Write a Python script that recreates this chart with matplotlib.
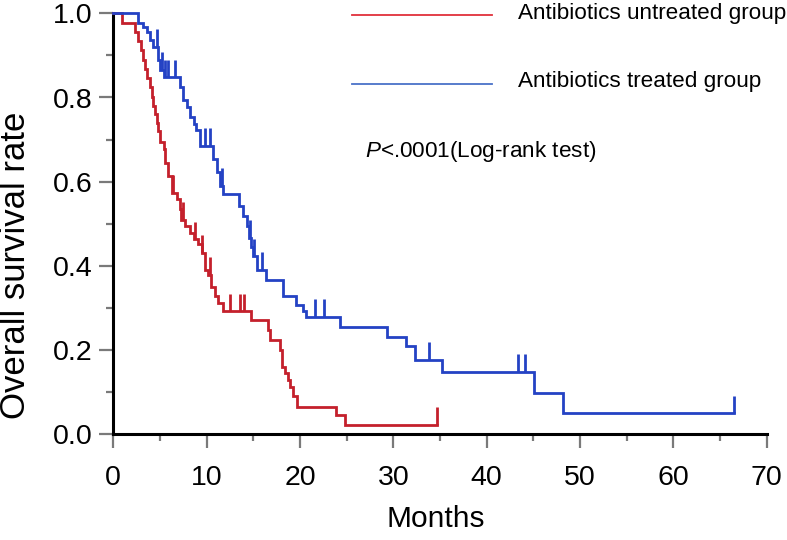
import numpy as np
import matplotlib
matplotlib.use("Agg")
import matplotlib.pyplot as plt
from matplotlib.lines import Line2D
from matplotlib.ticker import MultipleLocator

plt.rcParams['font.family'] = ['Liberation Sans', 'DejaVu Sans']
plt.rcParams['mathtext.fontset'] = 'custom'
plt.rcParams['mathtext.it'] = 'Liberation Sans:italic'
plt.rcParams['mathtext.rm'] = 'Liberation Sans'

# ---- data ----
red_label = "Antibiotics untreated group"
blue_label = "Antibiotics treated group"
pvalue_text = r"$\mathit{P}$<.0001(Log-rank test)"

red_times = [0, 0.9, 2.3, 2.7, 3.0, 3.2, 3.4, 3.6, 3.9, 4.1, 4.3, 4.5, 4.65, 4.8, 5.0,
             5.4, 5.5, 5.9, 6.25, 6.8, 7.15, 7.3, 7.7, 8.2, 8.6, 9.1, 9.5, 9.8, 10.2,
             10.5, 10.9, 11.25, 11.8, 14.8, 16.6, 16.8, 17.9, 18.05, 18.4, 18.75, 18.9,
             19.3, 19.65, 23.9, 24.8]
red_surv = [1.0, 0.978, 0.956, 0.934, 0.912, 0.89, 0.868, 0.846, 0.824, 0.80, 0.78,
            0.76, 0.74, 0.72, 0.694, 0.677, 0.645, 0.613, 0.574, 0.558, 0.534, 0.51,
            0.494, 0.479, 0.463, 0.451, 0.431, 0.391, 0.379, 0.351, 0.328, 0.312,
            0.292, 0.272, 0.248, 0.225, 0.2, 0.161, 0.145, 0.129, 0.113, 0.09, 0.066,
            0.046, 0.022]
red_end = 34.7
red_censor = [6.4, 7.5, 8.75, 9.5, 10.4, 12.5, 13.6, 14.0, 34.7]

blue_times = [0, 2.7, 3.2, 3.6, 3.9, 4.3, 4.8, 5.0, 5.4, 7.2, 7.5, 7.9, 8.2, 8.6, 8.9,
              9.3, 10.7, 11.1, 11.4, 11.8, 13.5, 13.9, 14.3, 14.5, 14.8, 15.0, 15.4,
              16.4, 18.2, 19.6, 20.3, 20.6, 24.3, 29.3, 31.4, 32.3, 35.2, 45.1, 48.2]
blue_surv = [1.0, 0.978, 0.967, 0.955, 0.936, 0.92, 0.888, 0.865, 0.848, 0.825, 0.793,
             0.777, 0.753, 0.737, 0.722, 0.685, 0.653, 0.622, 0.59, 0.57, 0.542, 0.518,
             0.494, 0.467, 0.445, 0.423, 0.391, 0.367, 0.328, 0.308, 0.292, 0.279,
             0.256, 0.232, 0.209, 0.177, 0.149, 0.099, 0.05]
blue_end = 66.5
blue_censor = [4.65, 5.2, 5.5, 5.9, 6.6, 9.8, 10.4, 11.6, 14.6, 15.1, 15.9, 21.6,
               22.6, 33.8, 43.4, 44.1, 66.5]

x_ticks = [0, 10, 20, 30, 40, 50, 60, 70]
y_ticks = [0.0, 0.2, 0.4, 0.6, 0.8, 1.0]
x_label = "Months"
y_label = "Overall survival rate"

RED = '#c4202c'
BLUE = '#2442c4'

W, H = 787, 540
fig = plt.figure(figsize=(W / 100, H / 100), dpi=100)
ax = fig.add_axes([113.3 / W, 1 - 434.3 / H, (766.6 - 113.3) / W, (434.3 - 13.3) / H])


def km(ax, times, surv, end, censor, color):
    t = np.array(list(times) + [end])
    s = np.array(list(surv) + [surv[-1]])
    ax.step(t, s, where='post', color=color, lw=2.0, clip_on=False, zorder=3,
            solid_joinstyle='miter')
    ct = np.array(censor)
    idx = np.searchsorted(np.array(times), ct, side='right') - 1
    cs = np.array(surv)[idx]
    ax.vlines(ct, cs, cs + 0.042, color=color, lw=2.0, zorder=3, clip_on=False)


km(ax, red_times, red_surv, red_end, red_censor, RED)
km(ax, blue_times, blue_surv, blue_end, blue_censor, BLUE)

ax.set_xlim(0, 70)
ax.set_ylim(0, 1.0)
ax.set_xticks(x_ticks)
ax.set_yticks(y_ticks)
ax.set_yticklabels([f"{v:.1f}" for v in y_ticks])
ax.xaxis.set_minor_locator(MultipleLocator(5))
ax.yaxis.set_minor_locator(MultipleLocator(0.1))

for side in ['top', 'right']:
    ax.spines[side].set_visible(False)
for side in ['left', 'bottom']:
    ax.spines[side].set_linewidth(2.2)
    ax.spines[side].set_color('black')

ax.tick_params(which='major', length=10, width=1.6, color='#7a7a7a',
               labelsize=20.5, pad=5)
ax.tick_params(which='minor', length=5, width=1.6, color='#7a7a7a')
ax.tick_params(axis='x', which='major', pad=12)

fig.text(436 / W, 1 - 519 / H, x_label, fontsize=21.5, ha='center', va='center')
fig.text(16 / W, 1 - 265 / H, y_label, fontsize=25, ha='center', va='center',
         rotation=90)

# legend
fig.add_artist(Line2D([352 / W, 492 / W], [1 - 15 / H, 1 - 15 / H],
                      color='#e0303c', lw=1.3))
fig.add_artist(Line2D([352 / W, 492 / W], [1 - 84 / H, 1 - 84 / H],
                      color='#4a72c8', lw=1.3))
fig.text(518 / W, 1 - 13 / H, red_label, fontsize=16.2, ha='left', va='center')
fig.text(518 / W, 1 - 82 / H, blue_label, fontsize=16.2, ha='left', va='center')
fig.text(365 / W, 1 - 151 / H, pvalue_text, fontsize=16.2, ha='left', va='center')

fig.savefig('out.png', dpi=100)
